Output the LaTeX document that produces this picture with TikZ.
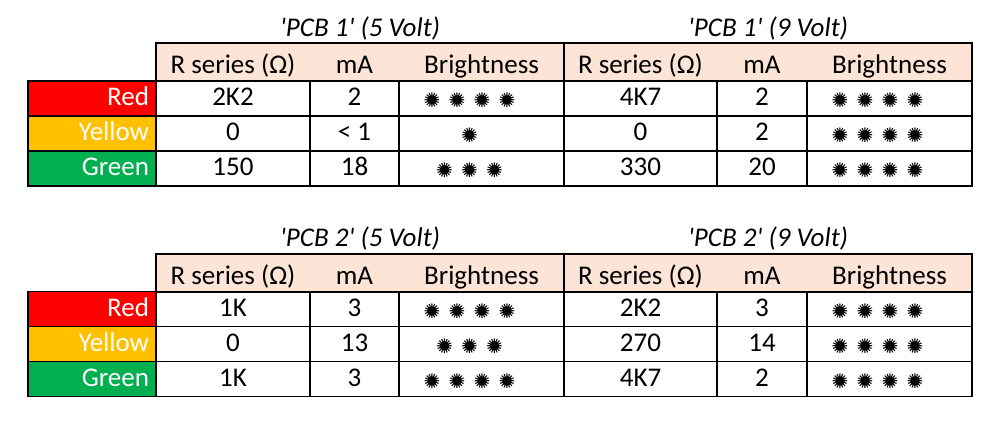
\documentclass[tikz,border=0pt]{standalone}
\usepackage{fontspec}
\setmainfont{Carlito}
\newfontfamily\symfont{DejaVu Sans}
\definecolor{ledred}{HTML}{FF0000}
\definecolor{ledyellow}{HTML}{FFC000}
\definecolor{ledgreen}{HTML}{00B050}
\definecolor{hdrfill}{HTML}{FCE4D6}
\tikzstyle{cell} = [draw, line width=1.8pt, inner sep=0pt, minimum height=35pt, text height=19pt, text depth=4pt]
\tikzstyle{hdr} = [fill=hdrfill, inner sep=0pt, minimum height=37.4pt, text height=24pt, text depth=1.4pt]
\tikzstyle{led} = [cell, text=white, minimum width=128pt, text width=114pt, align=right, inner xsep=7pt]
\tikzstyle{ttl} = [font=\itshape, anchor=base]
\tikzstyle{frame} = [line width=1.8pt]
\newcommand{\midglyph}[1]{\makebox[0pt]{\raisebox{\dimexpr(\depth-\height)/2+5pt\relax}{#1}}}
\newcommand{\burst}{\makebox[25pt]{\hspace{-12pt}\midglyph{✺}\midglyph{\fontsize{12}{12}\selectfont ●}\hspace{12pt}}}
\newcommand{\stars}[1]{{\symfont\fontsize{20}{20}\selectfont\foreach \k in {1,...,#1}{\burst}\hspace{16pt}}}

\begin{document}
\begin{tikzpicture}[x=1pt, y=-1pt]
        \fontsize{27}{32}\selectfont
        \useasboundingbox (0,0) rectangle (1000,423);

        % PCB 1
        \node at (360,36) [ttl](t1a) {\textquotesingle PCB 1\textquotesingle\ (5 Volt)};
        \node at (768,36) [ttl](t1b) {\textquotesingle PCB 1\textquotesingle\ (9 Volt)};
        \foreach \x/\w/\t [count=\i] in {233/154/{R series (Ω)}, 354.5/89/mA, 481.5/165/Brightness, 640.5/153/{R series (Ω)}, 762/90/mA, 889.5/165/Brightness}
            \node at (\x,62) [hdr, minimum width=\w pt](h1-\i) {\t};
        \draw[frame] (h1-1.north west) rectangle (h1-3.south east);
        \draw[frame] (h1-4.north west) rectangle (h1-6.south east);
        \foreach \y/\c/\lbl/\ra/\ma/\sa/\rb/\mb/\sb [count=\r] in {98.2/ledred/Red/2K2/2/4/4K7/2/4, 133.2/ledyellow/Yellow/0/{< 1}/1/0/2/4, 168.2/ledgreen/Green/150/18/3/330/20/4}
        {
            \node at (92,\y) [led, fill=\c](c1-\r) {\lbl};
            \node at (233,\y) [cell, minimum width=154pt](r1a-\r) {\ra};
            \node at (354.5,\y) [cell, minimum width=89pt](m1a-\r) {\ma};
            \node at (481.5,\y) [cell, minimum width=165pt](b1a-\r) {\stars{\sa}};
            \node at (640.5,\y) [cell, minimum width=153pt](r1b-\r) {\rb};
            \node at (762,\y) [cell, minimum width=90pt](m1b-\r) {\mb};
            \node at (889.5,\y) [cell, minimum width=165pt](b1b-\r) {\stars{\sb}};
        }

        % PCB 2
        \node at (360,246) [ttl](t2a) {\textquotesingle PCB 2\textquotesingle\ (5 Volt)};
        \node at (768,246) [ttl](t2b) {\textquotesingle PCB 2\textquotesingle\ (9 Volt)};
        \foreach \x/\w/\t [count=\i] in {233/154/{R series (Ω)}, 354.5/89/mA, 481.5/165/Brightness, 640.5/153/{R series (Ω)}, 762/90/mA, 889.5/165/Brightness}
            \node at (\x,272.7) [hdr, minimum width=\w pt](h2-\i) {\t};
        \draw[frame] (h2-1.north west) rectangle (h2-3.south east);
        \draw[frame] (h2-4.north west) rectangle (h2-6.south east);
        \foreach \y/\c/\lbl/\ra/\ma/\sa/\rb/\mb/\sb [count=\r] in {308.9/ledred/Red/1K/3/4/2K2/3/4, 343.9/ledyellow/Yellow/0/13/3/270/14/4, 378.9/ledgreen/Green/1K/3/4/4K7/2/4}
        {
            \node at (92,\y) [led, fill=\c](c2-\r) {\lbl};
            \node at (233,\y) [cell, minimum width=154pt](r2a-\r) {\ra};
            \node at (354.5,\y) [cell, minimum width=89pt](m2a-\r) {\ma};
            \node at (481.5,\y) [cell, minimum width=165pt](b2a-\r) {\stars{\sa}};
            \node at (640.5,\y) [cell, minimum width=153pt](r2b-\r) {\rb};
            \node at (762,\y) [cell, minimum width=90pt](m2b-\r) {\mb};
            \node at (889.5,\y) [cell, minimum width=165pt](b2b-\r) {\stars{\sb}};
        }

    \end{tikzpicture}
\end{document}
